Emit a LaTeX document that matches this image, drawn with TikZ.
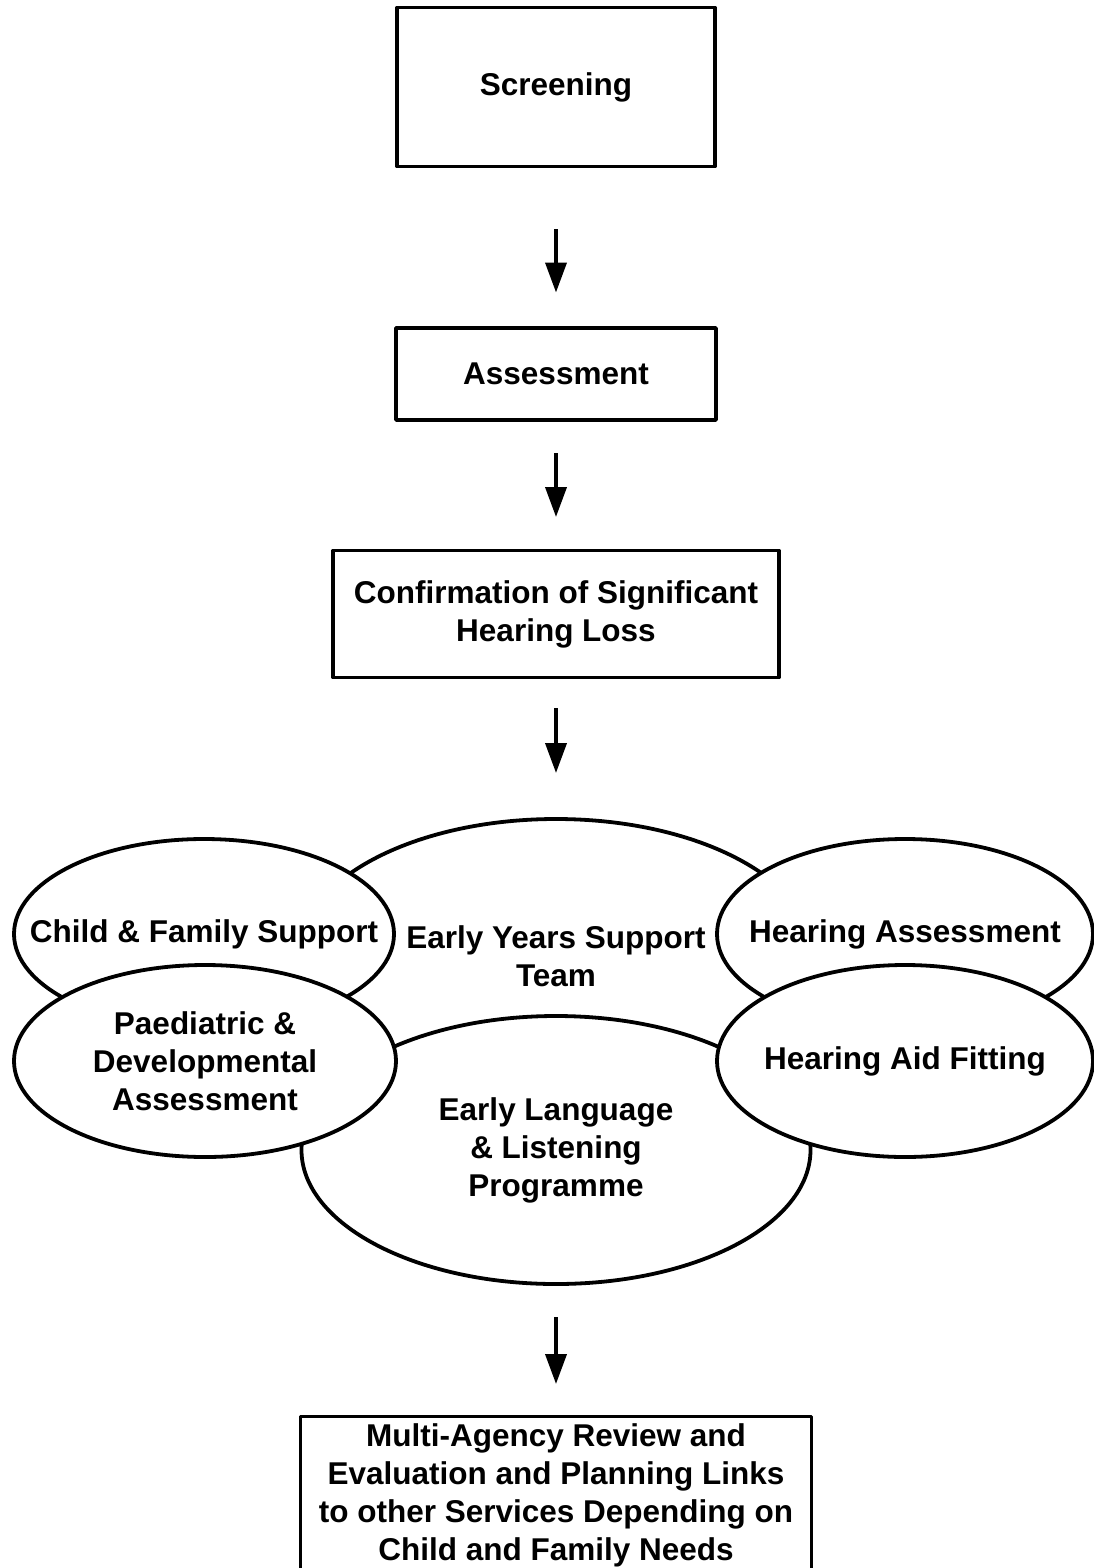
\documentclass[tikz,border=0pt]{standalone}
\usepackage{fontspec}
\setmainfont{Liberation Sans}
\usepackage{tikz}
\usetikzlibrary{
  shapes.geometric, arrows.meta, positioning
}
\tikzstyle{stage} = [
  rectangle, draw, fill=white,
  line width=3.8pt, line join=round,
  inner sep=0pt, outer sep=0pt, align=center,
  font=\fontsize{31.5}{38}\selectfont\bfseries
]
\tikzstyle{service} = [
  ellipse, draw, fill=white,
  line width=3.8pt, inner sep=0pt, outer sep=0pt
]
\tikzstyle{every label} = [
  align=center, inner sep=0pt,
  font=\fontsize{31.5}{38}\selectfont\bfseries
]
\tikzstyle{arrow} = [-{Triangle[length=30pt, width=21pt]}, line width=3.8pt]

\begin{document}
\begin{tikzpicture}[x=1pt, y=-1pt]
  \useasboundingbox (0, 0) rectangle (1094, 1568);

  \node[stage, minimum width=318pt, minimum height=159pt] (screening) at (556, 87) {Screening};
  \node[stage, minimum width=320pt, minimum height=92pt] (assessment) at (556, 374) {Assessment};
  \node[stage, minimum width=446pt, minimum height=127pt] (confirm) at (556, 614) {Confirmation of Significant\\Hearing Loss};

  % overlapping services, later ones on top
  \node[service, minimum width=516pt, minimum height=274pt, label=center:{Early Years Support\\Team}] (eyst) at (556, 956) {};
  \node[service, minimum width=380pt, minimum height=190pt, label=center:{Child \& Family Support}] (cfs) at (204, 934) {};
  \node[service, minimum width=376pt, minimum height=190pt, label=center:{Hearing Assessment}] (ha) at (905, 934) {};
  \node[service, minimum width=509pt, minimum height=268pt, label=center:{Early Language\\\& Listening\\Programme}] (ellp) at (556, 1150) {};
  \node[service, minimum width=382pt, minimum height=192pt, label=center:{Paediatric \&\\Developmental\\Assessment}] (paed) at (205, 1061) {};
  \node[service, minimum width=376pt, minimum height=192pt, label=center:{Hearing Aid Fitting}] (haf) at (905, 1061) {};

  \node[stage, minimum width=511pt, minimum height=157pt] (review) at (556, 1495) {Multi-Agency Review and\\Evaluation and Planning Links\\to other Services Depending on\\Child and Family Needs};

  \draw[arrow, shorten <=62.5pt, shorten >=35.5pt] (screening) -- (assessment);
  \draw[arrow, shorten <=33pt, shorten >=33.5pt] (assessment) -- (confirm);
  \draw[arrow, shorten <=30.5pt, shorten >=46pt] (confirm) -- (eyst);
  \draw[arrow, shorten <=33pt, shorten >=32.5pt] (ellp) -- (review);

\end{tikzpicture}
\end{document}
